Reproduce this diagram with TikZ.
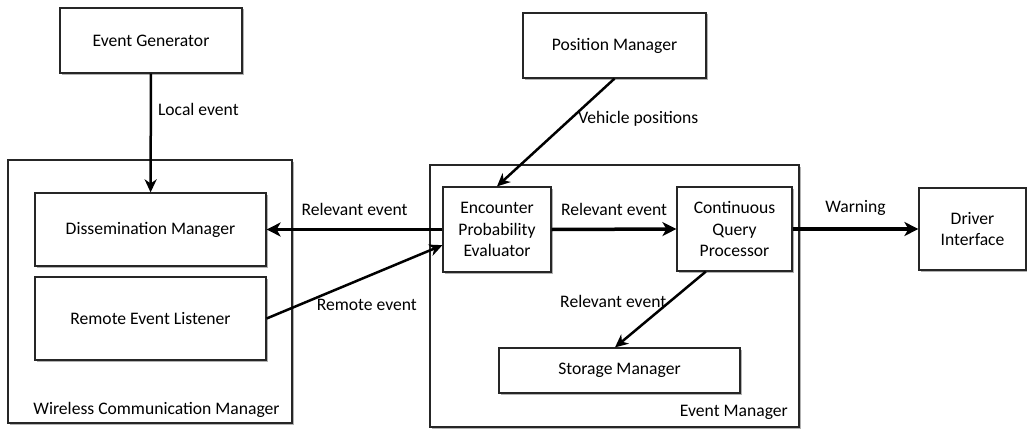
\documentclass[tikz,border=0pt]{standalone}
\usepackage{fontspec}
\setmainfont{Carlito}
\usetikzlibrary{arrows.meta,shadows}
\begin{document}
\begin{tikzpicture}[x=1pt,y=-1pt,
  font=\fontsize{17.6}{21.5}\selectfont,
  box/.style={draw=black!85,line width=1.2pt,fill=white,inner sep=0pt,align=center,
    drop shadow={shadow xshift=1.5pt,shadow yshift=-1.5pt,fill=black,opacity=0.3}},
  thick arrow/.style={line width=3.5pt,-{Stealth[length=14pt,width=14pt,inset=4pt]}},
  thin arrow/.style={line width=2.5pt,-{Stealth[length=13pt,width=12pt,inset=4pt]}},
  lbl/.style={inner sep=0pt}]
  \useasboundingbox (0,0) rectangle (1027,428);
  \node[box,minimum width=284pt,minimum height=263pt] (wcm) at (150,291.5) {};
  \node[box,minimum width=369pt,minimum height=262pt] (em) at (614.5,296) {};
  \node[lbl] (wcmlbl) at (156.5,410) {Wireless Communication Manager};
  \node[lbl,anchor=east] (emlbl) at (788,412) {Event Manager};
  \node[box,minimum width=182pt,minimum height=65pt] (gen) at (151,40.5) {Event Generator};
  \node[box,minimum width=183pt,minimum height=65pt] (pos) at (614.5,45.5) {Position Manager};
  \node[box,minimum width=231pt,minimum height=73pt] (dis) at (150.5,229.5) {Dissemination Manager};
  \node[box,minimum width=231pt,minimum height=83pt] (rel) at (150.5,318.5) {Remote Event Listener};
  \node[box,minimum width=108pt,minimum height=85pt] (epe) at (497,229.5) {Encounter\\Probability\\Evaluator};
  \node[box,minimum width=115pt,minimum height=84pt] (cqp) at (734.5,229) {Continuous\\Query\\Processor};
  \node[box,minimum width=241pt,minimum height=45pt] (sto) at (619.5,370.5) {Storage Manager};
  \node[box,minimum width=107pt,minimum height=82pt] (drv) at (972.5,229) {Driver\\Interface};
  \draw[thin arrow] (gen) -- node[lbl,pos=0.3,anchor=west,xshift=6pt] {Local event} (dis);
  \draw[thin arrow] (pos.south) -- node[lbl,pos=0.37,anchor=west,xshift=6pt] {Vehicle positions} (epe.north);
  \draw[thick arrow] (epe.west) -- node[lbl,midway,above=12pt] {Relevant event} (dis.east);
  \draw[thin arrow] (rel.east) -- node[lbl,pos=0.57,below=21pt] {Remote event} (epe.196);
  \draw[thick arrow] (epe.east) -- node[lbl,midway,above=12pt] {Relevant event} (cqp.west);
  \draw[thick arrow] (cqp.east) -- node[lbl,midway,above=12pt] {Warning} (drv.west);
  \draw[thin arrow] (cqp.236) -- node[lbl,pos=0.4,anchor=east,xshift=-2pt] {Relevant event} (sto.101);
\end{tikzpicture}
\end{document}
